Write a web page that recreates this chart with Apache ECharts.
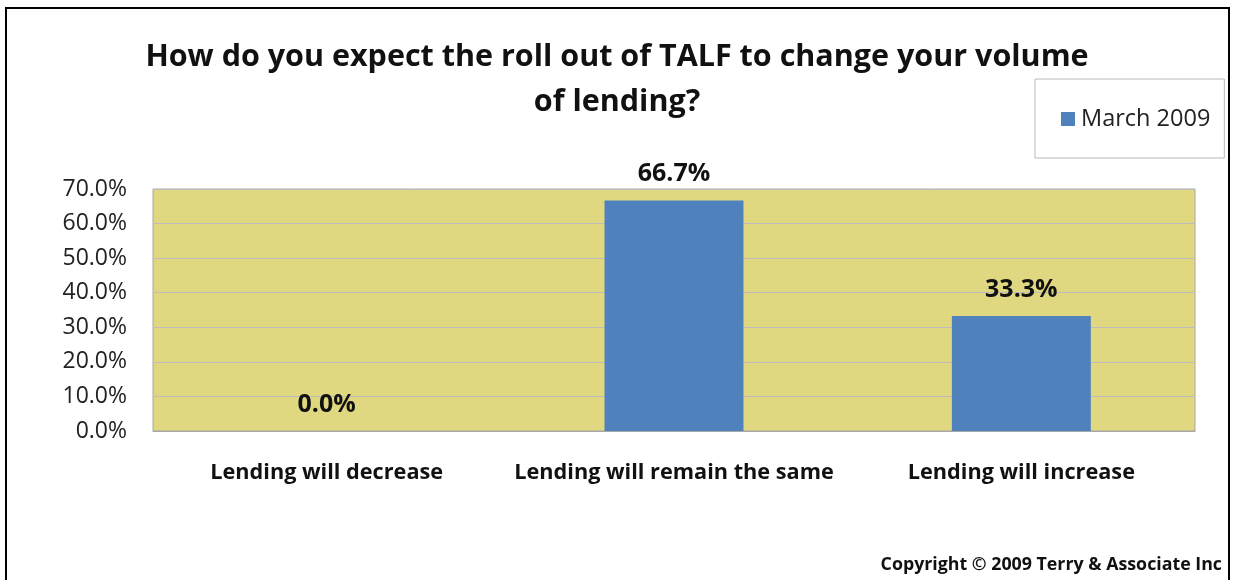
<!DOCTYPE html>
<html>
<head>
<meta charset="utf-8">
<script src="https://cdn.jsdelivr.net/npm/echarts@6/dist/echarts.min.js"></script>
<style>
  html, body { margin: 0; padding: 0; background: #fff; }
  #chart { width: 1233px; height: 580px; }
</style>
</head>
<body>
<div id="chart"></div>
<script>
// Survey answers (percent of respondents)
const categories = ['Lending will decrease', 'Lending will remain the same', 'Lending will increase'];
const march2009 = [0.0, 66.7, 33.3];
const seriesName = 'March 2009';
const titleText = 'How do you expect the roll out of TALF to change your volume\nof lending?';
const copyrightText = 'Copyright \u00A9 2009 Terry & Associate Inc';

const FONT = '"Open Sans", "DejaVu Sans", sans-serif';

const chart = echarts.init(document.getElementById('chart'), null, { renderer: 'canvas' });

chart.setOption({
  backgroundColor: '#ffffff',
  animation: false,
  textStyle: { fontFamily: FONT },
  title: {
    text: titleText,
    left: 612,
    top: 30,
    textAlign: 'center',
    textStyle: {
      fontFamily: FONT,
      fontSize: 30.5,
      fontWeight: 'bold',
      color: '#111',
      lineHeight: 45
    }
  },
  legend: {
    data: [seriesName],
    left: 1035,
    top: 79,
    orient: 'vertical',
    padding: [28, 14, 27, 26],
    borderColor: '#b8b8b8',
    borderWidth: 1,
    itemWidth: 14,
    itemHeight: 14,
    itemGap: 0,
    icon: 'rect',
    textStyle: { fontFamily: FONT, fontSize: 23.5, color: '#222', padding: [0, 0, 0, 1] }
  },
  grid: {
    left: 153,
    right: 38,
    top: 189,
    bottom: 149,
    show: true,
    backgroundColor: '#DFD880',
    borderColor: '#a8a8a8',
    borderWidth: 1
  },
  xAxis: {
    type: 'category',
    data: categories,
    axisLine: { show: true, lineStyle: { color: '#a8a8a8' } },
    axisTick: { show: false },
    axisLabel: {
      interval: 0,
      margin: 31,
      fontFamily: FONT,
      fontSize: 21.7,
      fontWeight: 'bold',
      color: '#111'
    }
  },
  yAxis: {
    type: 'value',
    min: 0,
    max: 70,
    interval: 10,
    axisLine: { show: false },
    axisTick: { show: false },
    splitLine: { lineStyle: { color: '#bdbdbd', width: 1 } },
    axisLabel: {
      margin: 26,
      fontFamily: FONT,
      fontSize: 23,
      color: '#222',
      formatter: v => v.toFixed(1) + '%'
    }
  },
  series: [{
    name: seriesName,
    type: 'bar',
    data: march2009,
    barWidth: '40%',
    itemStyle: { color: '#4F81BD' },
    label: {
      show: true,
      position: 'top',
      distance: 14,
      fontFamily: FONT,
      fontSize: 25,
      fontWeight: 'bold',
      color: '#111',
      formatter: p => p.value.toFixed(1) + '%'
    }
  }],
  graphic: [
    {
      type: 'rect',
      silent: true,
      shape: { x: 6, y: 8, width: 1223, height: 620 },
      style: { fill: 'none', stroke: '#000', lineWidth: 2 }
    },
    {
      type: 'text',
      right: 11,
      top: 556,
      style: {
        text: copyrightText,
        font: 'bold 17.8px ' + FONT,
        fill: '#111'
      }
    }
  ]
});
</script>
</body>
</html>
